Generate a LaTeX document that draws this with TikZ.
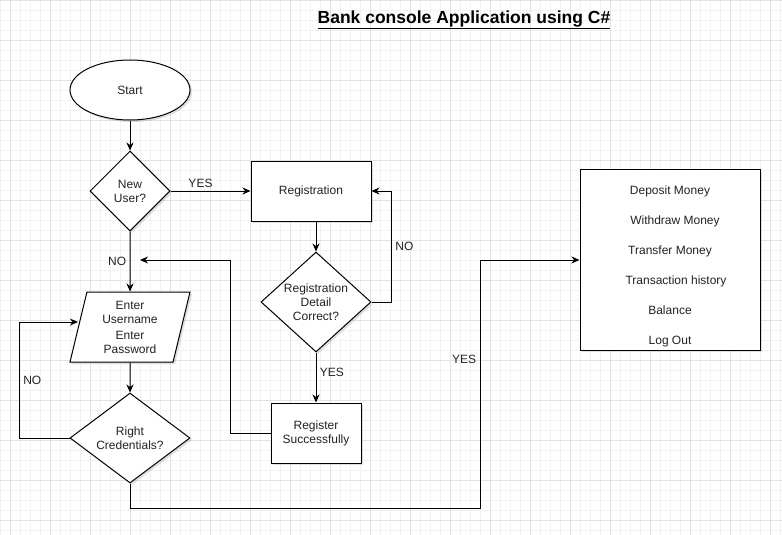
\documentclass[tikz,border=0pt]{standalone}
\usepackage{fontspec}
\setmainfont{Liberation Sans}
\usetikzlibrary{shapes.geometric,arrows.meta,positioning,shadows}
\definecolor{gridminor}{HTML}{F2F2F2}
\definecolor{gridmajor}{HTML}{E2E2E2}
\definecolor{inkgray}{HTML}{222222}

\begin{document}
\begin{tikzpicture}[
    x=1pt, y=-1pt,
    font=\fontsize{12}{14}\selectfont,
    every node/.style={text=inkgray},
    softshadow/.style={drop shadow={opacity=0.25, shadow xshift=2pt, shadow yshift=-2pt}},
    terminal/.style={ellipse, draw, fill=white, line width=1pt, minimum width=120pt, minimum height=60pt, softshadow},
    decision/.style={diamond, draw, fill=white, line width=1pt, align=center, inner sep=0pt, aspect=1.2, softshadow},
    io/.style={trapezium, trapezium left angle=74, trapezium right angle=106, trapezium stretches body, draw, fill=white, line width=1pt, minimum width=120pt, minimum height=70pt, align=center, softshadow},
    box/.style={rectangle, draw, fill=white, line width=1pt, align=center, softshadow},
    arrow/.style={-{Stealth[length=8pt,width=7pt]}, line width=1pt}
]
\useasboundingbox (0,0) rectangle (782,535);

% Grid
\foreach \gx in {0,10,...,780} \draw[gridminor, line width=0.8pt] (\gx,0) -- (\gx,535);
\foreach \gy in {0,10,...,530} \draw[gridminor, line width=0.8pt] (0,\gy) -- (782,\gy);
\foreach \gx in {10,50,...,770} \draw[gridmajor, line width=0.8pt] (\gx,0) -- (\gx,535);
\foreach \gy in {0,40,...,520} \draw[gridmajor, line width=0.8pt] (0,\gy) -- (782,\gy);

% Title
\node[font=\fontsize{17.5}{20}\selectfont\bfseries, text=black] (title) at (464,20) {\underline{Bank console Application using C\#}};

% Start
\node[terminal] (start) at (130,90) {Start};

% New user?
\node[decision, minimum width=80pt, minimum height=80pt, below=30pt of start] (newuser) {New\\User?};

% Login
\node[io, below=60pt of newuser] (input) {Enter\\Username\\[2pt]Enter\\Password};
\node[decision, minimum width=120pt, minimum height=90pt, below=30pt of input] (cred) {Right\\Credentials?};

% Registration
\node[box, minimum width=120pt, minimum height=60pt, right=80pt of newuser] (reg) {Registration};
\node[decision, minimum width=110pt, minimum height=100pt, below=30pt of reg, xshift=5pt] (regok) {Registration\\Detail\\Correct?};
\node[box, minimum width=90pt, minimum height=60pt, below=50pt of regok] (regdone) {Register\\Successfully};
\coordinate (nojoin) at (140,260);

% Menu
\node[box, minimum width=180pt, minimum height=180pt, font=\fontsize{12}{30}\selectfont] (menu) at (670,260)
    {\rule{0pt}{21pt}Deposit Money\\\hspace{10pt}Withdraw Money\\Transfer Money\\\hspace{12pt}Transaction history\\Balance\\Log Out};

% Arrows
\draw[arrow] (start) -- (newuser);
\draw[arrow] (newuser) -- node[above, xshift=-10pt] {YES} (reg);
\draw[arrow] (newuser) -- node[left] {NO} (input);
\draw[arrow] (input) -- (cred);
\draw[arrow] (reg.south -| regok.north) -- (regok);
\draw[arrow] (regok) -- node[right, pos=0.4] {YES} (regdone);
\draw[arrow] (regok.east) -- ++(20pt,0) |- node[pos=0.25, right] {NO} (reg.east);
\draw[arrow] (regdone.west) -- ++(-40pt,0) |- (nojoin);
\draw[arrow] (cred.west) -- ++(-50pt,0) |- node[pos=0.25, right] {NO} ([yshift=5pt]input.west);
\draw[arrow] (cred.south) |- ++(350,25) |- node[pos=0.3, left] {YES} (menu.west);

\end{tikzpicture}
\end{document}
